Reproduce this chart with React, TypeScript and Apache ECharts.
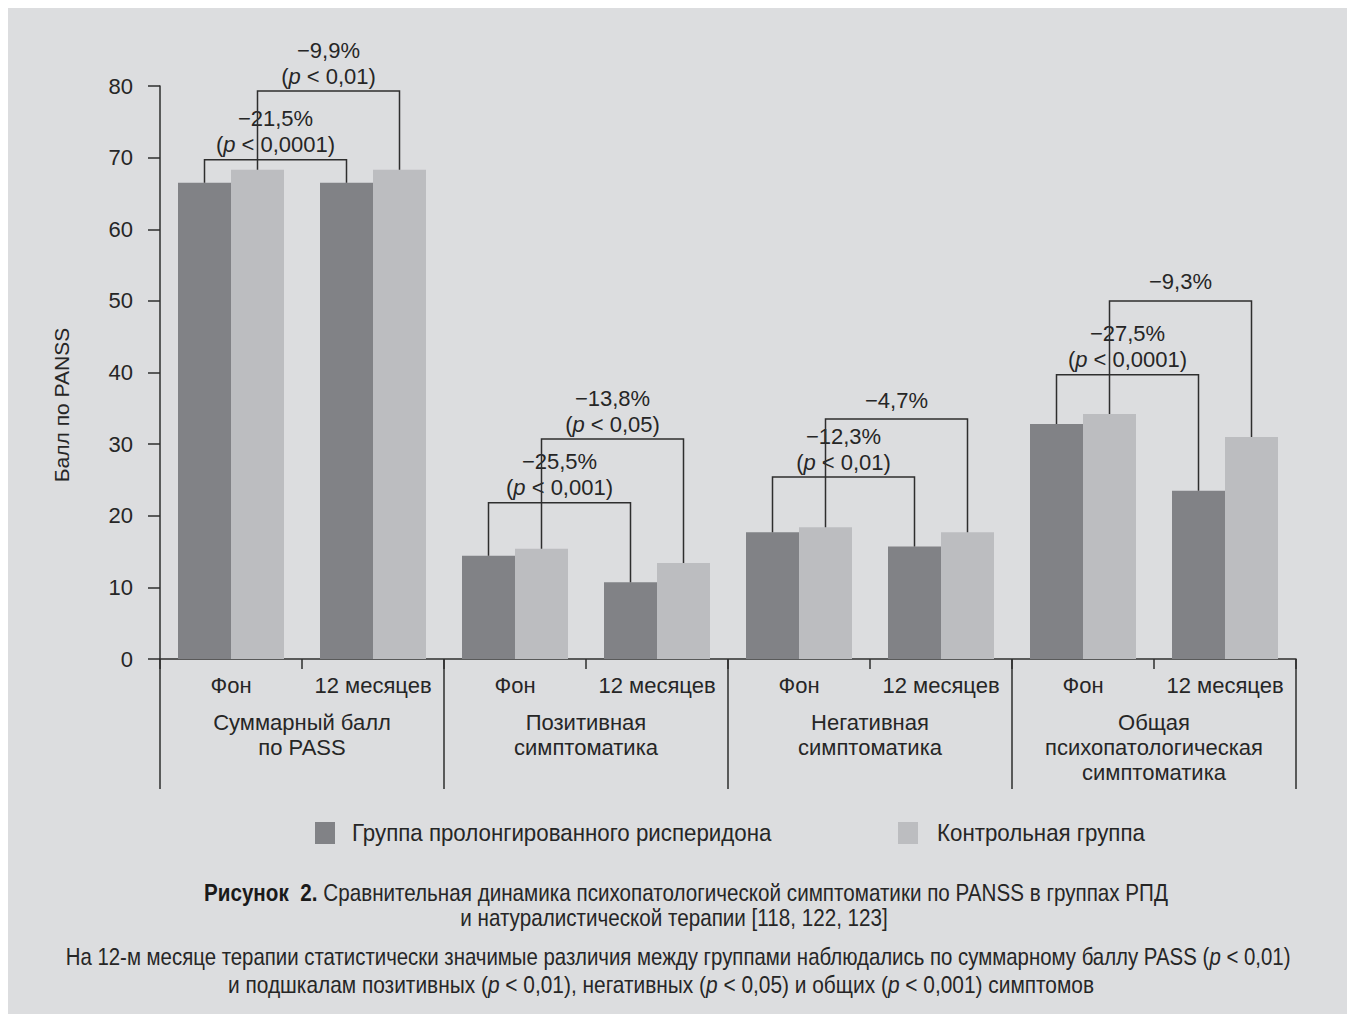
import React, { useEffect, useRef } from 'react';
import * as echarts from 'echarts';

// Subcategories along the x axis (two time points per scale)
const subCategories = ['Фон', '12 месяцев', 'Фон', '12 месяцев', 'Фон', '12 месяцев', 'Фон', '12 месяцев'];
// PANSS scales (group labels under the subcategories)
const groupLabels = [
  'Суммарный балл\nпо PASS',
  'Позитивная\nсимптоматика',
  'Негативная\nсимптоматика',
  'Общая\nпсихопатологическая\nсимптоматика',
];
const seriesNames = ['Группа пролонгированного рисперидона', 'Контрольная группа'];

// Mean PANSS scores
const risperidoneScores = [66.5, 66.5, 14.4, 10.7, 17.7, 15.7, 32.8, 23.5];
const controlScores = [68.3, 68.3, 15.4, 13.4, 18.4, 17.7, 34.2, 31.0];

// Y axis range
const yMin = 0;
const yMax = 80;
const yStep = 10;

// Change brackets: which bars they join, how high they rise and what they say
const bracketFrom = [0, 0, 2, 2, 4, 4, 6, 6];
const bracketTo = [1, 1, 3, 3, 5, 5, 7, 7];
const bracketSeries = [0, 1, 0, 1, 0, 1, 0, 1];
const bracketTop = [69.7, 79.3, 21.8, 30.7, 25.4, 33.5, 39.7, 50.0];
const bracketChange = ['−21,5%', '−9,9%', '−25,5%', '−13,8%', '−12,3%', '−4,7%', '−27,5%', '−9,3%'];
const bracketP = ['0,0001', '0,01', '0,001', '0,05', '0,01', '', '0,0001', ''];

// Figure caption
const captionTitle = 'Рисунок  2.';
const captionLines = [
  'Сравнительная динамика психопатологической симптоматики по PANSS в группах РПД',
  'и натуралистической терапии [118, 122, 123]',
  'На 12-м месяце терапии статистически значимые различия между группами наблюдались по суммарному баллу PASS ({i|p} < 0,01)',
  'и подшкалам позитивных ({i|p} < 0,01), негативных ({i|p} < 0,05) и общих ({i|p} < 0,001) симптомов',
];

const SANS = "'Liberation Sans', Arial, Helvetica, sans-serif";
const INK = '#262626';
const LINE = '#2e2e2e';
const DARK = '#818286';
const LIGHT = '#bcbdc0';
const BG = '#dcdddf';
const BAR_WIDTH = 53;
const FS = 22;

// the caption and legend use a horizontally squeezed sans to imitate a condensed face
function condensedText(x: number, y: number, text: string, align: string, squeeze: number) {
  return {
    type: 'text',
    x,
    y,
    scaleX: squeeze,
    style: {
      text,
      fill: INK,
      fontSize: 24,
      fontFamily: SANS,
      align,
      verticalAlign: 'middle',
      rich: {
        i: { fontStyle: 'italic', fontSize: 24, fontFamily: SANS, fill: INK },
        b: { fontWeight: 'bold', fontSize: 24, fontFamily: SANS, fill: '#1a1a1a' },
      },
    },
  };
}

export default function App() {
  const ref = useRef<HTMLDivElement>(null);

  useEffect(() => {
    if (!ref.current) return;
    const chart = echarts.init(ref.current, null, { renderer: 'svg' });

    const option: any = {
      animation: false,
      backgroundColor: BG,
      grid: { left: 152, right: 51, top: 78, bottom: 355, containLabel: false },
      xAxis: [
        {
          type: 'category',
          data: subCategories,
          position: 'bottom',
          axisLine: { show: true, lineStyle: { color: LINE, width: 1.5 } },
          axisTick: { show: true, length: 10, lineStyle: { color: LINE, width: 1.5 } },
          axisLabel: { interval: 0, margin: 15, fontSize: FS, fontFamily: SANS, color: INK },
          splitLine: { show: false },
        },
        {
          type: 'category',
          data: groupLabels,
          position: 'bottom',
          axisLine: { show: false },
          axisTick: { show: true, length: 130, lineStyle: { color: LINE, width: 1.5 } },
          axisLabel: { interval: 0, margin: 51, fontSize: FS, lineHeight: 25, fontFamily: SANS, color: INK, align: 'center' },
          splitLine: { show: false },
        },
      ],
      yAxis: {
        type: 'value',
        min: yMin,
        max: yMax,
        interval: yStep,
        axisLine: { show: true, lineStyle: { color: LINE, width: 1.5 } },
        axisTick: { show: true, length: 12, lineStyle: { color: LINE, width: 1.5 } },
        axisLabel: { margin: 27, fontSize: FS, fontFamily: SANS, color: INK },
        splitLine: { show: false },
      },
      series: [
        {
          name: seriesNames[0],
          type: 'bar',
          xAxisIndex: 0,
          data: risperidoneScores,
          barWidth: BAR_WIDTH,
          barGap: '0%',
          itemStyle: { color: DARK },
        },
        {
          name: seriesNames[1],
          type: 'bar',
          xAxisIndex: 0,
          data: controlScores,
          barWidth: BAR_WIDTH,
          barGap: '0%',
          itemStyle: { color: LIGHT },
        },
        {
          type: 'custom',
          xAxisIndex: 0,
          yAxisIndex: 0,
          silent: true,
          clip: false,
          z: 10,
          data: bracketTop.map((t, i) => [bracketFrom[i], t]),
          renderItem: (params: any, api: any) => {
            const i = params.dataIndex;
            const values = bracketSeries[i] === 0 ? risperidoneScores : controlScores;
            const shift = (bracketSeries[i] === 0 ? -1 : 1) * (BAR_WIDTH / 2);
            const a = api.coord([bracketFrom[i], values[bracketFrom[i]]]);
            const b = api.coord([bracketTo[i], values[bracketTo[i]]]);
            const top = api.coord([bracketFrom[i], bracketTop[i]])[1];
            const x1 = a[0] + shift;
            const x2 = b[0] + shift;
            const mid = (x1 + x2) / 2;
            const textBase = {
              fill: INK,
              fontSize: FS,
              fontFamily: SANS,
              align: 'center',
              verticalAlign: 'middle',
            };
            const children: any[] = [
              {
                type: 'polyline',
                shape: { points: [[x1, a[1]], [x1, top], [x2, top], [x2, b[1]]] },
                style: { stroke: LINE, lineWidth: 1.5, fill: 'none' },
              },
            ];
            if (bracketP[i]) {
              children.push({
                type: 'text',
                x: mid,
                y: top - 41,
                style: { ...textBase, text: bracketChange[i] },
              });
              children.push({
                type: 'text',
                x: mid,
                y: top - 15,
                style: {
                  ...textBase,
                  text: '({i|p} < ' + bracketP[i] + ')',
                  rich: { i: { fontStyle: 'italic', fontSize: FS, fontFamily: SANS, fill: INK } },
                },
              });
            } else {
              children.push({
                type: 'text',
                x: mid,
                y: top - 19,
                style: { ...textBase, text: bracketChange[i] },
              });
            }
            return { type: 'group', children };
          },
        },
      ],
      graphic: [
        {
          type: 'text',
          x: 53,
          y: 397,
          rotation: Math.PI / 2,
          style: {
            text: 'Балл по PANSS',
            fill: INK,
            fontSize: 21,
            fontFamily: SANS,
            align: 'center',
            verticalAlign: 'middle',
          },
        },
        // legend
        { type: 'rect', shape: { x: 307, y: 814, width: 20, height: 22 }, style: { fill: DARK } },
        condensedText(344, 825, seriesNames[0], 'left', 0.93),
        { type: 'rect', shape: { x: 890, y: 814, width: 20, height: 22 }, style: { fill: LIGHT } },
        condensedText(929, 825, seriesNames[1], 'left', 0.93),
        // caption
        condensedText(678, 885, '{b|' + captionTitle + '} ' + captionLines[0], 'center', 0.86),
        condensedText(666, 910, captionLines[1], 'center', 0.86),
        condensedText(670, 949, captionLines[2], 'center', 0.85),
        condensedText(653, 977, captionLines[3], 'center', 0.87),
      ],
    };

    chart.setOption(option);
    return () => chart.dispose();
  }, []);

  return (
    <div
      ref={ref}
      style={{ position: 'absolute', left: 8, top: 8, width: 1339, height: 1006 }}
    />
  );
}
